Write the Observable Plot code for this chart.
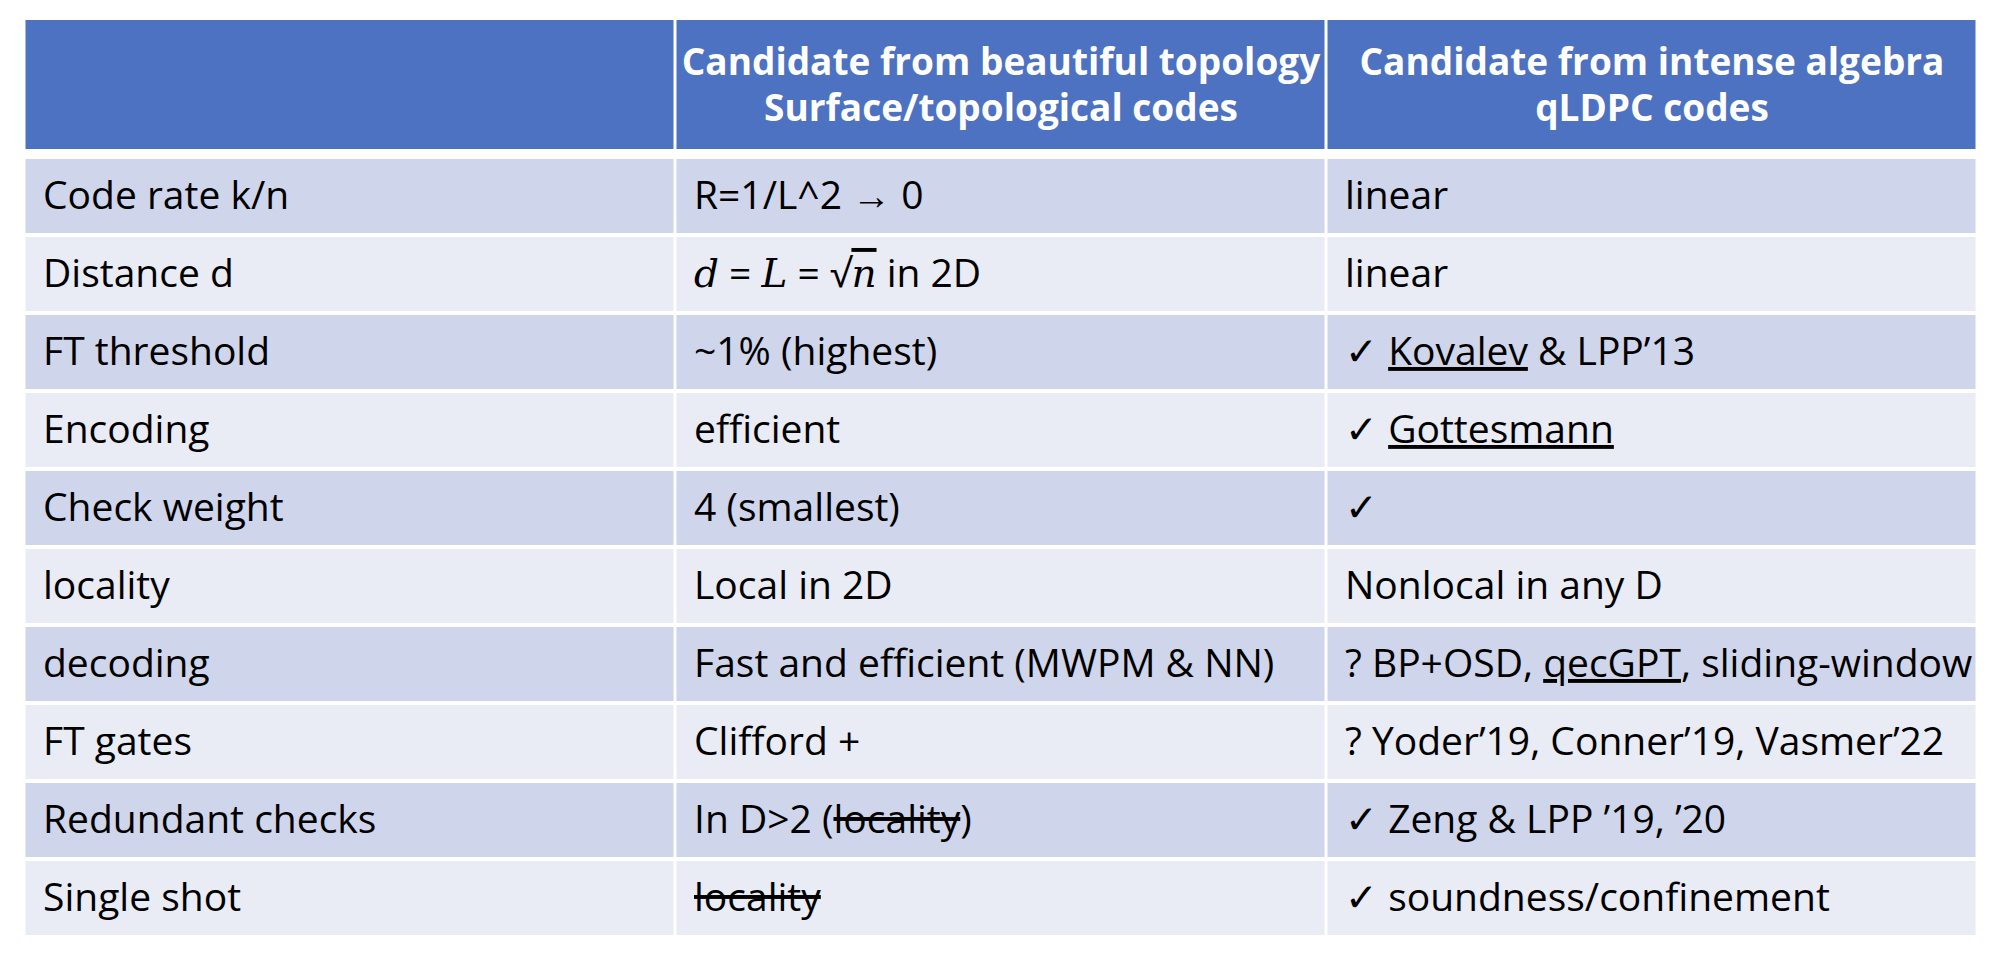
<!DOCTYPE html>
<html>
<head>
<meta charset="utf-8">
<script src="https://cdn.jsdelivr.net/npm/d3@7"></script>
<script src="https://cdn.jsdelivr.net/npm/@observablehq/plot@0.6"></script>
<style>
  body { margin: 0; background: #fff; }
  svg { display: block; }
</style>
</head>
<body>
<div id="chart"></div>
<script>
// columns and header text
const columns = ["label", "topo", "qldpc"]
const headers = [
  ["", ""],
  ["Candidate from beautiful topology", "Surface/topological codes"],
  ["Candidate from intense algebra", "qLDPC codes"]
]

// rows of the table
const rowLabels = ["Code rate k/n", "Distance d", "FT threshold", "Encoding", "Check weight",
  "locality", "decoding", "FT gates", "Redundant checks", "Single shot"]
const topoValues = ["R=1/L^2 \u2192 0", "d = L = \u221An in 2D", "~1% (highest)", "efficient", "4 (smallest)",
  "Local in 2D", "Fast and efficient (MWPM & NN)", "Clifford +", "In D>2 (locality)", "locality"]
const qldpcValues = ["linear", "linear", "\u2713 Kovalev & LPP\u201913", "\u2713 Gottesmann", "\u2713",
  "Nonlocal in any D", "? BP+OSD, qecGPT, sliding-window", "? Yoder\u201919, Conner\u201919, Vasmer\u201922",
  "\u2713 Zeng & LPP \u201919, \u201920", "\u2713 soundness/confinement"]

const font = "'Liberation Sans Narrow', 'Open Sans', sans-serif"

let headCells = columns.map((c, i) => ({col: c, l1: headers[i][0], l2: headers[i][1]}))

let body = []
rowLabels.forEach((r, i) => {
  body.push({row: i, col: "label", text: r})
  body.push({row: i, col: "topo", text: topoValues[i]})
  body.push({row: i, col: "qldpc", text: qldpcValues[i]})
})

let head = Plot.plot({
  width: 2000, height: 152,
  marginTop: 20, marginBottom: 3, marginLeft: 23, marginRight: 23,
  x: {domain: columns, axis: null, padding: 0},
  y: {axis: null},
  style: {fontFamily: font},
  marks: [
    Plot.cell(headCells, {x: "col", fill: "#4d72c1", insetLeft: 1.5, insetRight: 1.5}),
    Plot.text(headCells, {x: "col", text: "l1", dy: -22, fill: "white", fontWeight: "bold", fontSize: 37}),
    Plot.text(headCells, {x: "col", text: "l2", dy: 24, fill: "white", fontWeight: "bold", fontSize: 37})
  ]
})

let table = Plot.plot({
  width: 2000, height: 802,
  marginTop: 3, marginBottom: 15, marginLeft: 23, marginRight: 23,
  x: {domain: columns, axis: null, padding: 0},
  y: {domain: d3.range(10), axis: null, padding: 0},
  style: {fontFamily: font},
  marks: [
    Plot.cell(body, {x: "col", y: "row", fill: d => d.row % 2 ? "#e9ebf5" : "#cfd5ea",
      insetLeft: 1.5, insetRight: 1.5, insetTop: 2, insetBottom: 2}),
    Plot.text(body, {x: "col", y: "row", text: "text", textAnchor: "start", dx: -307,
      fontSize: 39, fill: "black"})
  ]
})

d3.select('#chart').append(() => head)
d3.select('#chart').append(() => table)

// rich text: strike-through, italic maths, spell-check squiggles
const rich = {
  "In D>2 (locality)": [["In D>2 ("], ["locality", "text-decoration: line-through"], [")"]],
  "locality": null,
  "d = L = \u221An in 2D": [["d", "font-style: italic; font-family: 'DejaVu Serif'"], [" = "],
    ["L", "font-style: italic; font-family: 'DejaVu Serif'"], [" = \u221A"],
    ["n", "font-style: italic; font-family: 'DejaVu Serif'; text-decoration: overline"], [" in 2D"]],
  "\u2713 Kovalev & LPP\u201913": [["\u2713 "], ["Kovalev", "text-decoration: underline wavy red"], [" & LPP\u201913"]],
  "\u2713 Gottesmann": [["\u2713 "], ["Gottesmann", "text-decoration: underline wavy red"]],
  "? BP+OSD, qecGPT, sliding-window": [["? BP+OSD, "], ["qecGPT", "text-decoration: underline wavy red"], [", sliding-window"]]
}
d3.select(table).selectAll("text").each(function () {
  let t = d3.select(this)
  let s = t.text()
  if (!(s in rich)) return
  let row = t.datum && null
  if (s === "locality") {
    // only the Single shot cell is struck through
    let x = +this.getAttribute("x") || 0
    if (x < 600 && !this.getAttribute("transform")?.includes("(6")) {}
  }
  if (rich[s] === null) return
  t.text(null)
  rich[s].forEach(([p, st]) => t.append("tspan").text(p).attr("style", st || null))
})
// strike the second "locality" (Single shot, topo column)
d3.select(table).selectAll("text").filter(function () { return d3.select(this).text() === "locality" })
  .filter((d, i) => i === 1).style("text-decoration", "line-through")
</script>
</body>
</html>
